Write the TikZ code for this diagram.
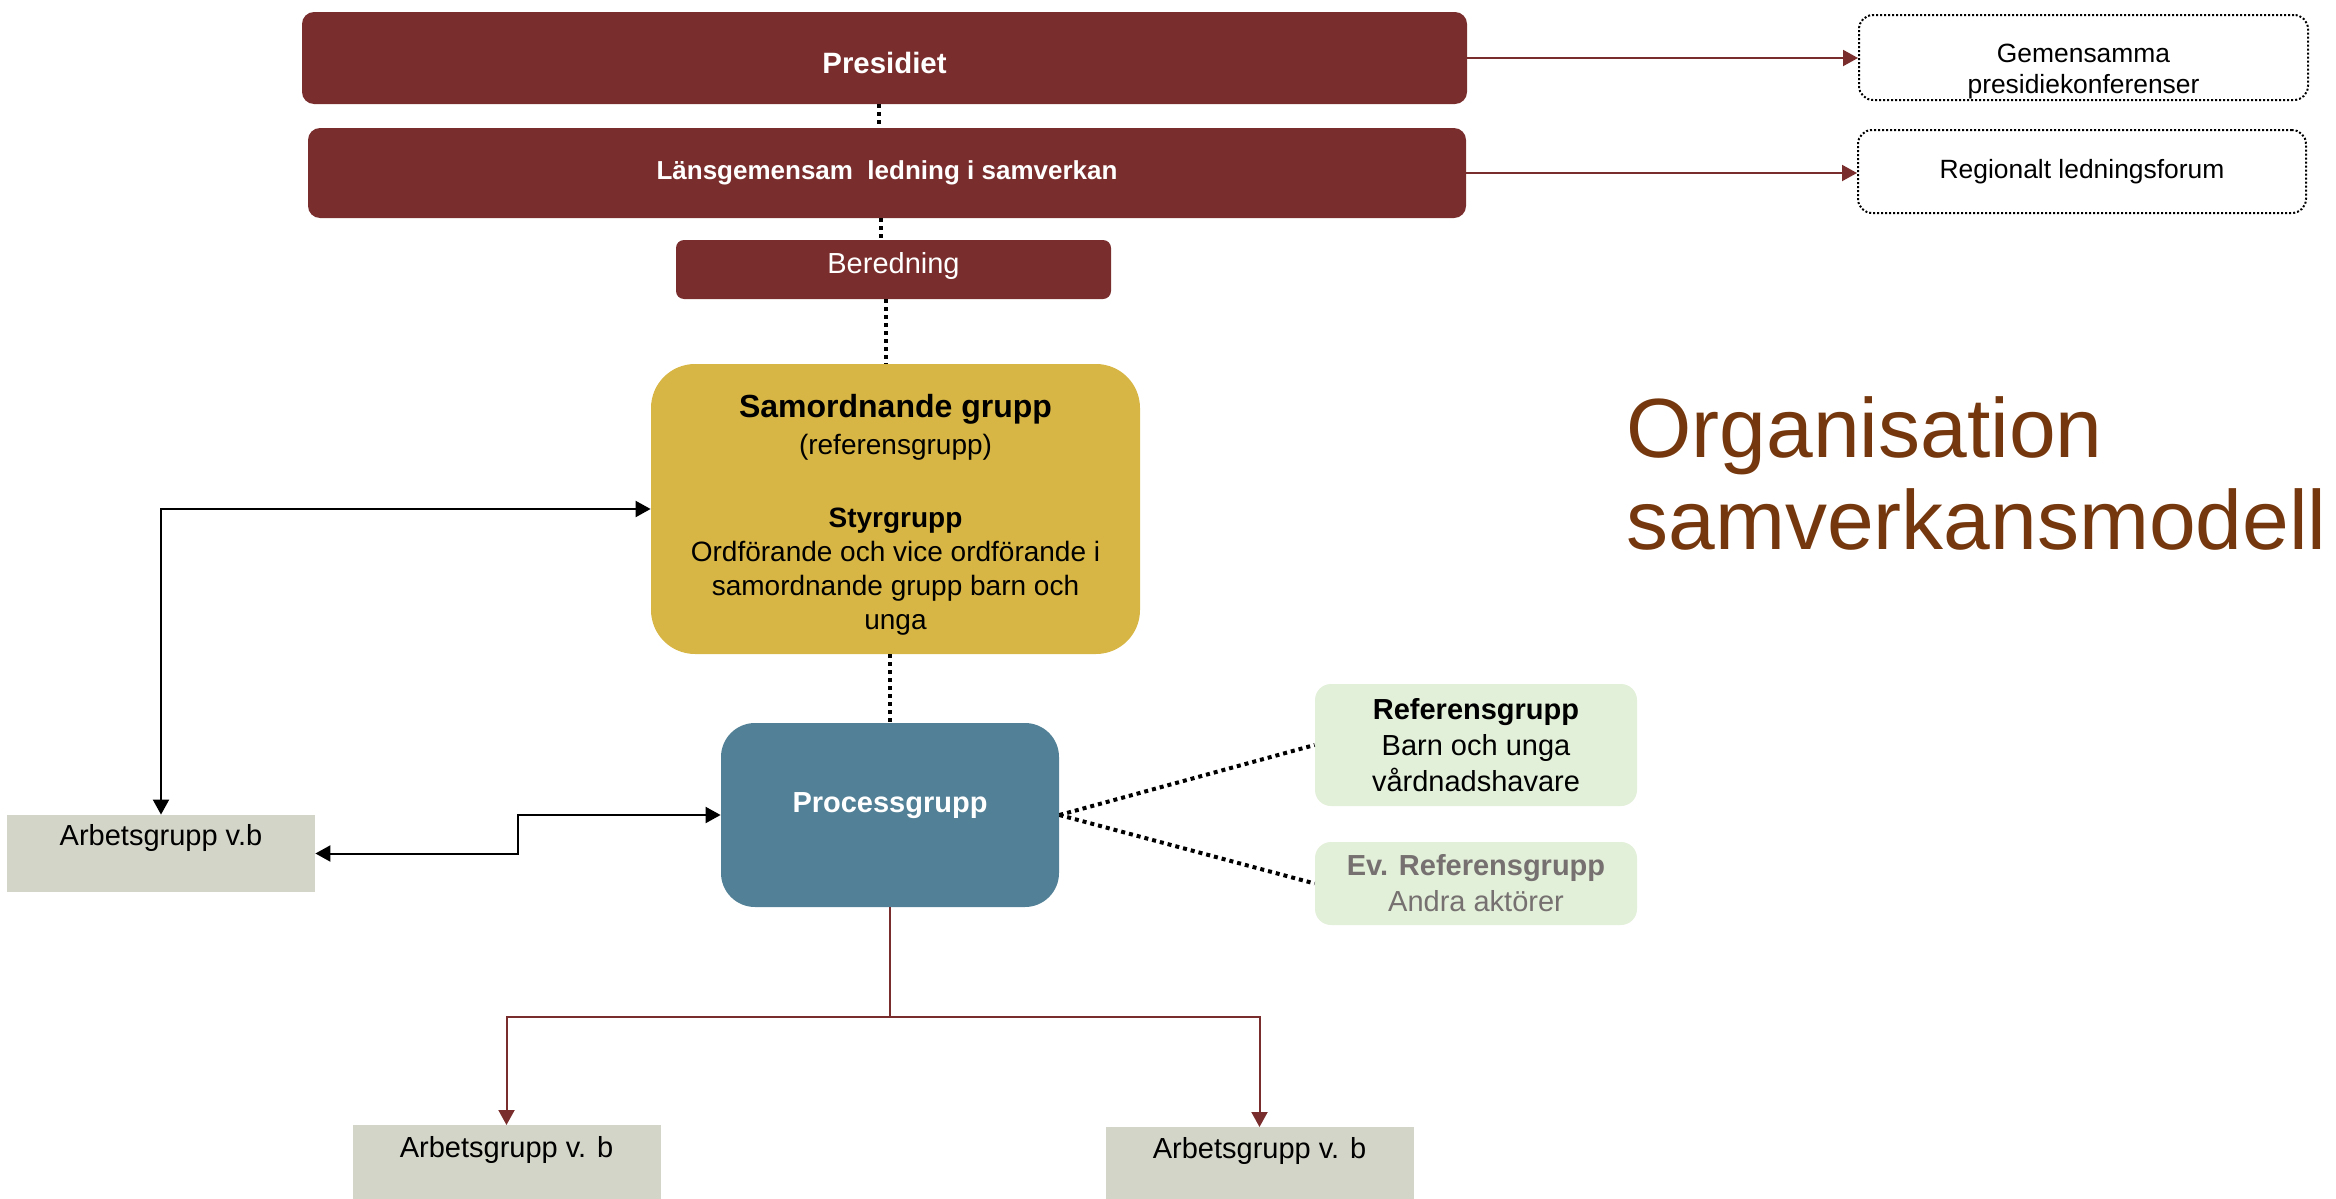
\documentclass[tikz,border=0pt]{standalone}
\usepackage{fontspec}
\setmainfont{Liberation Sans}
\usepackage{tikz}
\usetikzlibrary{shapes,arrows,positioning,calc,arrows.meta}

\definecolor{ledred}{RGB}{122,45,45}
\definecolor{samgold}{RGB}{216,182,69}
\definecolor{procteal}{RGB}{82,128,150}
\definecolor{arbgray}{RGB}{211,213,200}
\definecolor{refgreen}{RGB}{226,239,217}
\definecolor{refgraytext}{RGB}{118,113,112}
\definecolor{titlebrown}{RGB}{117,56,14}

\tikzset{
  ledbox/.style={fill=ledred, text=white, rounded corners=6pt, inner sep=0pt},
  forumbox/.style={draw=black, line width=1pt, dash pattern=on 1pt off 1pt,
    rounded corners=7pt, align=center, inner sep=0pt,
    font=\fontsize{13.2}{15.5}\selectfont},
  arbbox/.style={fill=arbgray, minimum width=154pt, inner ysep=0pt,
    font=\fontsize{14.5}{17}\selectfont},
  refbox/.style={fill=refgreen, rounded corners=8pt, minimum width=161pt,
    align=center, inner sep=0pt, font=\fontsize{14.5}{18}\selectfont},
  dotline/.style={line width=2pt, dash pattern=on 2pt off 2pt},
  redarrow/.style={draw=ledred, line width=1pt, -{Triangle[length=7.5pt,width=8pt]}},
  blkarrow/.style={draw=black, line width=1pt,
    {Triangle[length=7.5pt,width=8pt]}-{Triangle[length=7.5pt,width=8pt]}},
}

\begin{document}
\begin{tikzpicture}[x=0.5pt,y=-0.5pt]
  \useasboundingbox (0,0) rectangle (2336,1199);

  % ledning
  \node[ledbox, minimum width=582.5pt, text height=30.5pt, text depth=15.5pt,
    font=\bfseries\fontsize{14.7}{17}\selectfont] (pres) at (884.5,58) {Presidiet};
  \node[ledbox, minimum width=579pt, minimum height=45pt,
    font=\bfseries\fontsize{13}{15}\selectfont] (lans) at (887,173)
    {Länsgemensam\ \ ledning i samverkan};
  \node[ledbox, rounded corners=4pt, minimum width=217.5pt, text height=16.5pt,
    text depth=13pt, font=\fontsize{14.5}{17}\selectfont] (bered) at (893.5,269.5) {Beredning};

  % forum
  \node[forumbox, minimum width=224.5pt, minimum height=42.5pt] (gem) at (2083.5,57.5)
    {\rule{0pt}{23pt}Gemensamma\\presidiekonferenser};
  \node[forumbox, minimum width=224pt, minimum height=41.5pt] (reg) at (2082,171.5)
    {Regionalt ledningsforum};

  % grupper
  \node[fill=samgold, rounded corners=22pt, minimum width=244.5pt, minimum height=145pt,
    inner sep=0pt, align=center, font=\fontsize{14}{17}\selectfont] (samord) at (895.5,509)
    {\rule{0pt}{17pt}{\bfseries\fontsize{16}{18}\selectfont Samordnande grupp}\\[1.5pt]
     (referensgrupp)\\[19.5pt]
     \textbf{Styrgrupp}\\
     Ordförande och vice ordförande i\\
     samordnande grupp barn och\\
     unga};
  \node[fill=procteal, text=white, rounded corners=17pt, minimum width=169pt,
    inner xsep=0pt, inner ysep=0pt, text height=44.5pt, text depth=47.5pt,
    font=\bfseries\fontsize{14.5}{17}\selectfont] (proc) at (890,815) {Processgrupp};

  \node[refbox, minimum height=61pt] (refg) at (1476,745)
    {\textbf{Referensgrupp}\\Barn och unga\\vårdnadshavare};
  \node[refbox, minimum height=41.5pt, text=refgraytext] (evref) at (1476,883.5)
    {\textbf{Ev. Referensgrupp}\\Andra aktörer};

  \node[arbbox, text height=15pt, text depth=23.5pt] (arbL) at (161,853.5) {Arbetsgrupp v.b};
  \node[arbbox, anchor=north, text height=16pt, text depth=22.5pt] (arbBL) at (506.5,1125)
    {Arbetsgrupp v. b};
  \node[arbbox, anchor=north, text height=15.5pt, text depth=22.5pt] (arbBR) at (1259.5,1127)
    {Arbetsgrupp v. b};

  % rubrik
  \node[anchor=north west, inner sep=0pt, align=left, text=titlebrown,
    font=\fontsize{42}{46}\selectfont] (title) at (1626,396)
    {Organisation\\samverkansmodell};

  % kopplingar
  \draw[dotline] ([xshift=-3pt]pres.south) -- ([xshift=-3pt]pres.south |- lans.north);
  \draw[dotline] ([xshift=-3pt]lans.south) -- ([xshift=-3pt]lans.south |- bered.north);
  \draw[dotline] ([xshift=-4pt]bered.south) -- ([xshift=-4pt]bered.south |- samord.north);
  \draw[dotline] (proc.north |- samord.south) -- (proc.north);
  \draw[dotline] (proc.east) -- (refg.west);
  \draw[dotline] (proc.east) -- (evref.west);

  \draw[redarrow] (pres.east) -- (pres.east -| gem.west);
  \draw[redarrow] (lans.east) -- (lans.east -| reg.west);

  \coordinate (split) at ($(proc.south)+(0,110)$);
  \draw[ledred, line width=1pt] (proc.south) -- (split);
  \draw[redarrow] (split) -| (arbBL.north);
  \draw[redarrow] (split) -| (arbBR.north);

  \draw[blkarrow] (arbL.north) |- (samord.west);
  \draw[blkarrow] (proc.west) -- ++(-203,0) |- (arbL.east);
\end{tikzpicture}
\end{document}
